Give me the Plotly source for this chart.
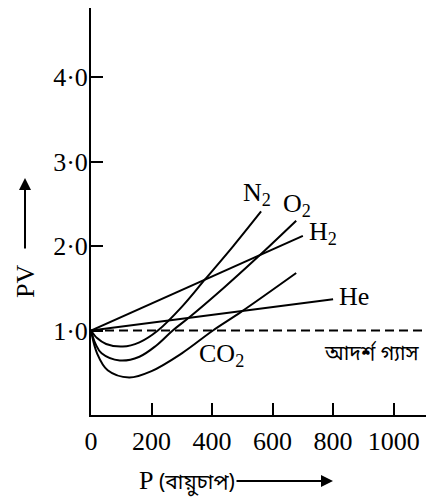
import plotly.graph_objects as go

# ---- data (P in atm, PV relative) ----
p_n2 = [0, 20, 50, 105, 160, 221, 300, 378, 470, 562]
pv_n2 = [1.0, 0.91, 0.84, 0.81, 0.86, 1.0, 1.28, 1.61, 2.0, 2.41]

p_o2 = [0, 15, 35, 95, 160, 215, 270, 326, 440, 551, 678]
pv_o2 = [1.0, 0.84, 0.73, 0.645, 0.69, 0.82, 1.0, 1.16, 1.51, 1.87, 2.30]

p_co2 = [0, 20, 55, 126, 200, 300, 403, 496, 678]
pv_co2 = [1.0, 0.73, 0.53, 0.445, 0.52, 0.73, 1.0, 1.22, 1.68]

p_h2 = [0, 700]
pv_h2 = [1.0, 2.12]

p_he = [0, 800]
pv_he = [1.0, 1.37]

p_ideal = [0, 1130]
pv_ideal = [1.0, 1.0]

x_ticks = [0, 200, 400, 600, 800, 1000]
x_ticktext = ["0", "200", "400", "600", "800", "1000"]
y_ticks = [1, 2, 3, 4]
y_ticktext = ["1·0", "2·0", "3·0", "4·0"]

# labels: (text, x, y)
curve_labels = [
    ("N<sub>2</sub>", 550, 2.62),
    ("O<sub>2</sub>", 679, 2.48),
    ("H<sub>2</sub>", 768, 2.16),
    ("He", 870, 1.40),
    ("CO<sub>2</sub>", 432, 0.71),
]
ideal_label = "আদর্শ গ্যাস"

OFF = 8  # default page body margin
W, H = 434 - OFF, 498 - OFF
ML, MR, MT, MB = 83, 1, 0, 83
FONT = "Liberation Serif"
BN_FONT = "Noto Sans Bengali, Noto Serif Bengali, Noto Sans, sans-serif"

fig = go.Figure()
for xs, ys in [(p_n2, pv_n2), (p_o2, pv_o2), (p_co2, pv_co2)]:
    fig.add_trace(go.Scatter(x=xs, y=ys, mode="lines",
                             line=dict(color="black", width=2, shape="spline", smoothing=1.0),
                             hoverinfo="skip", showlegend=False))
for xs, ys in [(p_h2, pv_h2), (p_he, pv_he)]:
    fig.add_trace(go.Scatter(x=xs, y=ys, mode="lines", line=dict(color="black", width=2),
                             hoverinfo="skip", showlegend=False))
fig.add_trace(go.Scatter(x=p_ideal, y=pv_ideal, mode="lines",
                         line=dict(color="black", width=2, dash="9px,5px"),
                         hoverinfo="skip", showlegend=False))

for txt, x, y in curve_labels:
    fig.add_annotation(x=x, y=y, text=txt, showarrow=False,
                       font=dict(family=FONT, size=26, color="black"))
fig.add_annotation(x=930, y=0.72, text=ideal_label, showarrow=False,
                   font=dict(family=BN_FONT, size=21, color="black"))

pw = W - ML - MR
ph = H - MT - MB


def px_x(px):
    return (px - OFF - ML) / pw


def px_y(py):
    return (H - MB - (py - OFF)) / ph


# y-axis title "PV" with upward arrow
fig.add_annotation(xref="paper", yref="paper", x=px_x(25), y=px_y(282), text="PV",
                   textangle=-90, showarrow=False, xanchor="center", yanchor="middle",
                   font=dict(family=FONT, size=26, color="black"))
fig.add_annotation(xref="paper", yref="paper", x=px_x(25), y=px_y(178), text="",
                   showarrow=True, ax=0, ay=72, arrowhead=2, arrowsize=1.2,
                   arrowwidth=2, arrowcolor="black")

# x-axis title "P (বায়ুচাপ)" with right arrow
fig.add_annotation(xref="paper", yref="paper", x=px_x(137), y=px_y(482),
                   text="P <span style='font-family:" + BN_FONT + ";font-size:21px'>(বায়ুচাপ)</span>",
                   xanchor="left", yanchor="middle", showarrow=False,
                   font=dict(family=FONT, size=26, color="black"))
fig.add_annotation(xref="paper", yref="paper", x=px_x(333), y=px_y(481), text="",
                   showarrow=True, ax=-98, ay=0, arrowhead=2, arrowsize=1.2,
                   arrowwidth=2, arrowcolor="black")

axis_common = dict(showline=True, linecolor="black", linewidth=2, ticks="inside",
                   ticklen=12, tickwidth=2, tickcolor="black", showgrid=False,
                   zeroline=False, tickfont=dict(family=FONT, size=26, color="black"))
fig.update_xaxes(range=[0, 1130], tickvals=x_ticks, ticktext=x_ticktext,
                 ticklabelstandoff=2, **axis_common)
fig.update_yaxes(range=[0, 4.817], tickvals=y_ticks, ticktext=y_ticktext,
                 ticklabelstandoff=-4, **axis_common)

fig.update_layout(width=W, height=H, margin=dict(l=ML, r=MR, t=MT, b=MB),
                  plot_bgcolor="white", paper_bgcolor="white", showlegend=False)

fig.write_html("out.html", config={"displayModeBar": False})
